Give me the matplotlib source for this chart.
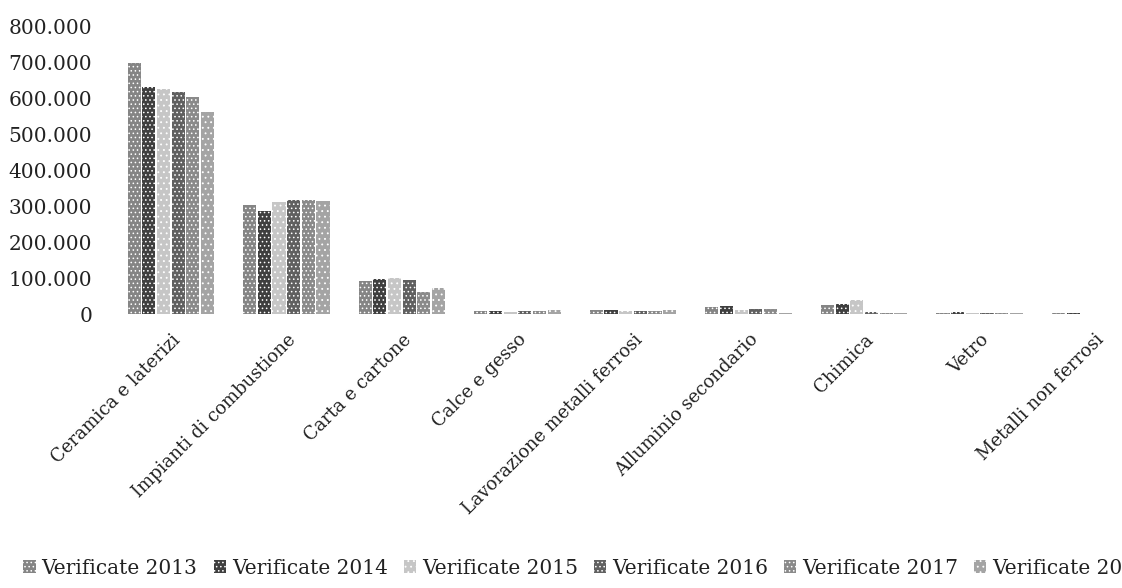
import matplotlib

matplotlib.use("Agg")
import matplotlib.pyplot as plt
import numpy as np
from matplotlib.ticker import FuncFormatter

categories = [
    "Ceramica e laterizi",
    "Impianti di combustione",
    "Carta e cartone",
    "Calce e gesso",
    "Lavorazione metalli ferrosi",
    "Alluminio secondario",
    "Chimica",
    "Vetro",
    "Metalli non ferrosi",
]
series_names = [
    "Verificate 2013",
    "Verificate 2014",
    "Verificate 2015",
    "Verificate 2016",
    "Verificate 2017",
    "Verificate 2018",
]
v2013 = [697000, 303000, 92000, 7000, 10000, 20000, 25000, 3000, 1500]
v2014 = [630000, 286000, 97000, 9000, 12000, 22000, 28000, 5000, 2000]
v2015 = [624000, 311000, 100000, 5000, 9000, 12000, 38000, 2000, 1000]
v2016 = [617000, 317000, 94000, 8000, 7000, 14000, 6000, 2000, 800]
v2017 = [603000, 317000, 61000, 8000, 9000, 13000, 2000, 2000, 1000]
v2018 = [561000, 314000, 72000, 10000, 10000, 3000, 2000, 2000, 1000]
values = [v2013, v2014, v2015, v2016, v2017, v2018]

colors = ["#858585", "#3f3f3f", "#c6c6c6", "#606060", "#8a8a8a", "#a4a4a4"]
hatches = ["....", "....", "...", "....", "....", "..."]

plt.rcParams["font.family"] = ["DejaVu Serif"]
plt.rcParams["hatch.linewidth"] = 0.6

fig = plt.figure(figsize=(11.22, 5.88), dpi=100)
# plot area runs slightly past the right edge, like the cropped scan
ax = fig.add_axes([113 / 1122, 1 - 314 / 588, 1040 / 1122, 288 / 588])

x = np.arange(len(categories))
width = 0.113
for i, (name, vals) in enumerate(zip(series_names, values)):
    offs = (i - 2.5) * 0.127
    ax.bar(x + offs, vals, width, color=colors[i], hatch=hatches[i],
           edgecolor="white", linewidth=0, label=name)

ax.set_xlim(-0.5, len(categories) - 0.5)
ax.set_ylim(0, 800000)
ax.set_yticks(np.arange(0, 800001, 100000))
ax.yaxis.set_major_formatter(
    FuncFormatter(lambda v, _: f"{int(v):,}".replace(",", "."))
)
ax.set_xticks(x)
ax.set_xticklabels(categories, rotation=45, ha="right", rotation_mode="anchor",
                   fontsize=13, color="#222222")
ax.tick_params(axis="y", labelsize=14.5, length=0, pad=15, colors="#222222")
ax.tick_params(axis="x", length=0, pad=12)
for s in ax.spines.values():
    s.set_visible(False)

# legend is wider than the page in the source, so its last entry is cut
fig.legend(loc="center", bbox_to_anchor=(586 / 1122, 1 - 568 / 588), ncol=6,
           frameon=False, fontsize=14.5, handlelength=0.6, handleheight=0.6,
           handletextpad=0.3, columnspacing=0.8, labelcolor="#222222")

fig.savefig("out.png", dpi=100)
